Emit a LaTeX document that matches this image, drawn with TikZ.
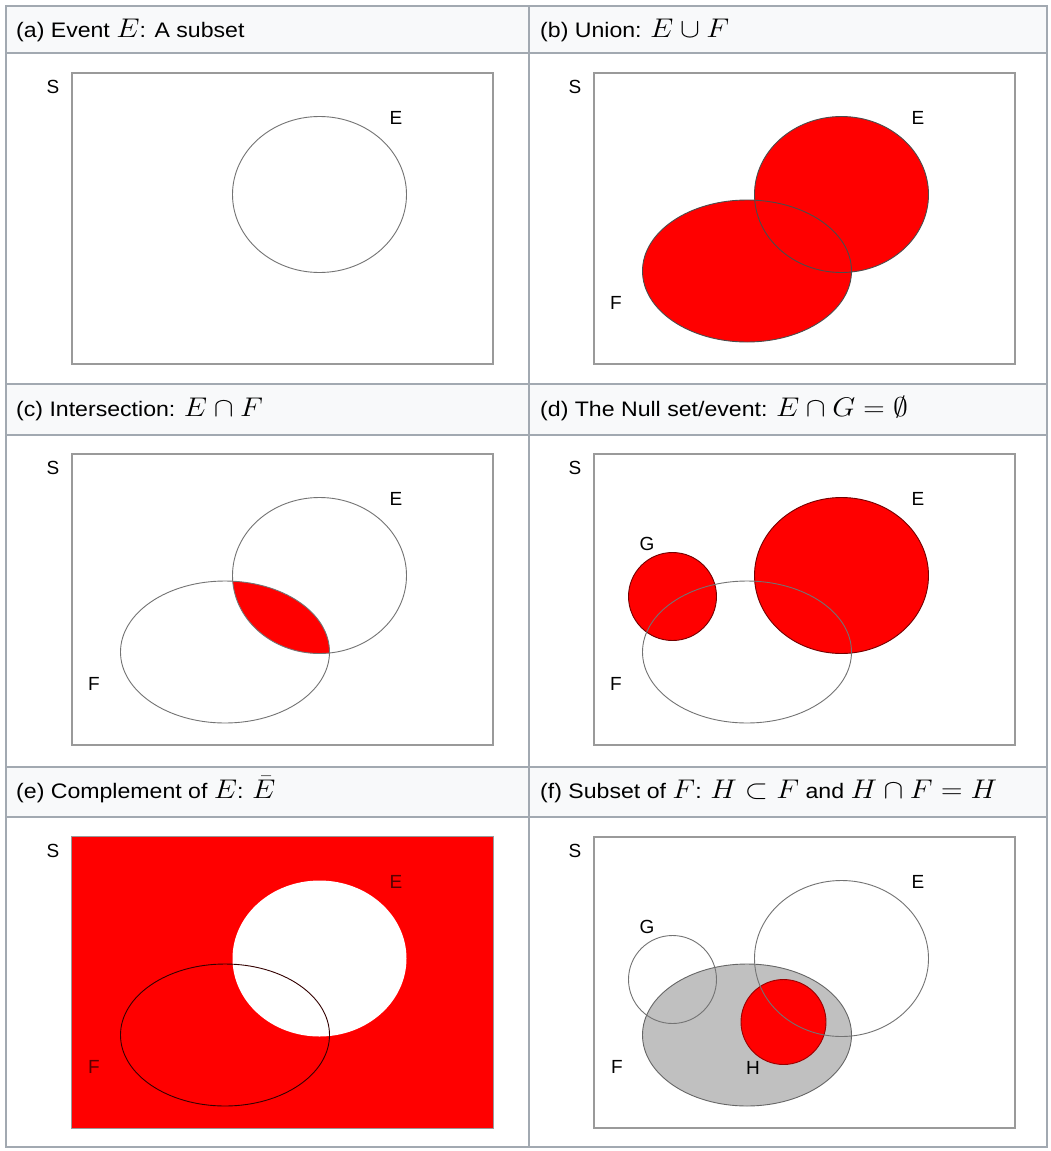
\RequirePackage{fix-cm}
\documentclass[tikz,border=0pt]{standalone}
\usepackage{amsmath, amssymb}
\usepackage{fontspec}
\setmainfont{Liberation Sans}
\usepackage{tikz}
\usetikzlibrary{
  calc,%
  positioning
}
\definecolor{hdrbg}{HTML}{F8F9FA}
\definecolor{gridcol}{HTML}{A2A9B1}
\definecolor{framecol}{HTML}{9A9A9A}
\definecolor{vred}{HTML}{FF0000}
\definecolor{fgrey}{HTML}{C0C0C0}
\tikzset{grid/.style={draw=gridcol, line width=1.3pt}}
\tikzset{frame/.style={draw=framecol, line width=1.2pt, fill=white}}
\tikzset{outl/.style={draw=black!55, line width=0.9pt}}
\tikzset{hdr/.style={anchor=base west, inner sep=0pt, xscale=1.1,
    transform shape, font=\fontsize{21}{25}\selectfont}}
\tikzset{lbl/.style={inner sep=0pt, font=\fontsize{19}{19}\selectfont}}
% the four sets, all in panel coordinates
\tikzset{setE/.style={x radius=87pt, y radius=78pt},
  setF/.style={x radius=104.5pt, y radius=71pt},
  setG/.style={radius=44pt},
  setH/.style={radius=42.5pt}}
\newcommand{\capmath}[1]{{\fontsize{27}{30}\selectfont$#1$}}

\begin{document}
\begin{tikzpicture}[x=1pt, y=-1pt]
  \useasboundingbox (0,0) rectangle (1050,1151);
  \fill[white] (0,0) rectangle (1050,1151);
  % table
  \foreach \t/\b in {6/53,384/435,767/817}
    \fill[hdrbg] (6,\t) rectangle (1047,\b);
  \draw[grid] (6,6) rectangle (1047,1147);
  \foreach \y in {53,384,435,767,817}
    \draw[grid] (6,\y) -- (1047,\y);
  \draw[grid] (529,6) -- (529,1147);
  % captions
  \node[hdr] (ha) at (16,37) {(a) Event \capmath{E}: A subset};
  \node[hdr] (hb) at (540,37) {(b) Union: \capmath{E\cup F}};
  \node[hdr] (hc) at (16,416) {(c) Intersection: \capmath{E\cap F}};
  \node[hdr] (hd) at (540,416) {(d) The Null set/event: \capmath{E\cap G=\emptyset}};
  \node[hdr] (he) at (16,798) {(e) Complement of \capmath{E}: \capmath{\bar{E}}};
  \node[hdr] (hf) at (540,798) {(f) Subset of \capmath{F}: \capmath{H\subset F} and \capmath{H\cap F=H}};
  % sample space boxes
  \foreach \p/\x/\y in {a/72/73,b/594/73,c/72/454,d/594/454,e/72/837,f/594/837}{
    \draw[frame] (\x,\y) rectangle +(421,291);
    \node[lbl] (s\p) at ($(\x,\y)+(-19,14)$) {S};
  }
  % (a)
  \begin{scope}[shift={(72,73)}]
    \draw[outl] (247.5,121.5) ellipse [setE];
    \node[lbl] (ea) at (324,45) {E};
  \end{scope}
  % (b)
  \begin{scope}[shift={(594,73)}]
    \fill[vred] (247.5,121.5) ellipse [setE];
    \fill[vred] (153,198) ellipse [setF];
    \draw[outl, draw=black!70] (247.5,121.5) ellipse [setE];
    \draw[outl, draw=black!70] (153,198) ellipse [setF];
    \node[lbl] (eb) at (324,45) {E};
    \node[lbl] (fb) at (22,230) {F};
  \end{scope}
  % (c)
  \begin{scope}[shift={(72,454)}]
    \begin{scope}
      \clip (247.5,121.5) ellipse [setE];
      \fill[vred] (153,198) ellipse [setF];
    \end{scope}
    \draw[outl] (247.5,121.5) ellipse [setE];
    \draw[outl] (153,198) ellipse [setF];
    \node[lbl] (ec) at (324,45) {E};
    \node[lbl] (fc) at (22,230) {F};
  \end{scope}
  % (d)
  \begin{scope}[shift={(594,454)}]
    \fill[vred] (78.5,142.5) circle [setG];
    \fill[vred] (247.5,121.5) ellipse [setE];
    \draw[outl, draw=red!45!black] (78.5,142.5) circle [setG];
    \draw[outl, draw=red!45!black] (247.5,121.5) ellipse [setE];
    \draw[outl] (153,198) ellipse [setF];
    \node[lbl] (ed) at (324,45) {E};
    \node[lbl] (fd) at (22,230) {F};
    \node[lbl] (gd) at (53,90) {G};
  \end{scope}
  % (e)
  \begin{scope}[shift={(72,837)}]
    \fill[vred] (0,0) rectangle (421,291);
    \fill[white] (247.5,121.5) ellipse [setE];
    \draw[outl, draw=red!20!black] (153,198) ellipse [setF];
    \node[lbl, text=red!35!black] (ee) at (324,45) {E};
    \node[lbl, text=red!35!black] (fe) at (22,230) {F};
  \end{scope}
  % (f)
  \begin{scope}[shift={(594,837)}]
    \fill[fgrey] (153,198) ellipse [setF];
    \fill[vred] (189.5,185) circle [setH];
    \draw[outl, draw=black!60] (153,198) ellipse [setF];
    \draw[outl, draw=red!60!black] (189.5,185) circle [setH];
    \draw[outl] (78.5,142.5) circle [setG];
    \draw[outl] (247.5,121.5) ellipse [setE];
    \node[lbl] (ef) at (324,45) {E};
    \node[lbl] (ff) at (23,230) {F};
    \node[lbl] (gf) at (53,90) {G};
    \node[lbl] (hh) at (159,231) {H};
  \end{scope}
\end{tikzpicture}
\end{document}
